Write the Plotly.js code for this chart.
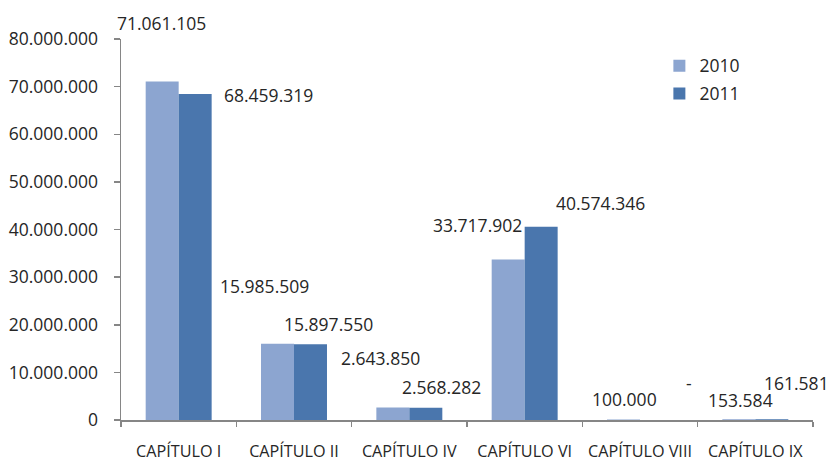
<!DOCTYPE html>
<html>
<head>
<meta charset="utf-8">
<script src="https://cdn.plot.ly/plotly-3.0.1.min.js"></script>
<style>html,body{margin:0;padding:0;background:#fff;}#chart{width:836px;height:461px;}</style>
</head>
<body>
<div id="chart"></div>
<script>
// ---- data ----
var categories = ["CAPÍTULO I", "CAPÍTULO II", "CAPÍTULO IV", "CAPÍTULO VI", "CAPÍTULO VIII", "CAPÍTULO IX"];
var seriesNames = ["2010", "2011"];
var values2010 = [71061105, 15985509, 2643850, 33717902, 100000, 153584];
var values2011 = [68459319, 15897550, 2568282, 40574346, 0, 161581];
var yTicks = [0, 10000000, 20000000, 30000000, 40000000, 50000000, 60000000, 70000000, 80000000];

// ---- label offsets (px), relative to category center / bar top ----
var labelDx2010 = [-16.7, -30, -29.3, -46.7, -15.5, -15.3];
var labelDy2010 = [59, 58, 49.4, 34, 20.5, 19.3];
var labelDx2011 = [89.8, 34, 31.7, 76.3, 49, 40.7];
var labelDy2011 = [-1.3, 20, 20.8, 23.6, 37, 36];

var colors = ["#8CA5D0", "#4A76AD"];
var textColor = "#262626";
var fontFam = "'Open Sans', 'Noto Sans', sans-serif";

function fmt(v) {
  if (v === 0) return "-";
  return String(v).replace(/\B(?=(\d{3})+(?!\d))/g, ".");
}

var traces = [
  {type: "bar", name: seriesNames[0], x: categories, y: values2010, marker: {color: colors[0]}, legendgroup: "a", hoverinfo: "none"},
  {type: "bar", name: seriesNames[1], x: categories, y: values2011, marker: {color: colors[1]}, legendgroup: "b", hoverinfo: "none"}
];

var annotations = [];
function addLabels(vals, dx, dy) {
  for (var i = 0; i < categories.length; i++) {
    annotations.push({
      x: categories[i], y: vals[i], xref: "x", yref: "y",
      text: fmt(vals[i]), showarrow: false,
      xanchor: "center", yanchor: "middle",
      xshift: dx[i], yshift: dy[i],
      font: {family: fontFam, size: 17.5, color: textColor}
    });
  }
}
addLabels(values2010, labelDx2010, labelDy2010);
addLabels(values2011, labelDx2011, labelDy2011);

var layout = {
  width: 836, height: 461,
  margin: {l: 121, r: 23, t: 39, b: 41, pad: 0},
  paper_bgcolor: "#fff", plot_bgcolor: "#fff",
  separators: ",.",
  barmode: "group", bargap: 0.428, bargroupgap: 0,
  showlegend: true,
  legend: {
    x: 0.778, y: 0.977, xanchor: "left", yanchor: "top",
    traceorder: "grouped", tracegroupgap: 2,
    font: {family: fontFam, size: 17.5, color: textColor},
    bgcolor: "rgba(0,0,0,0)"
  },
  xaxis: {
    type: "category", range: [-0.5, categories.length - 0.5], autorange: false,
    showline: true, linecolor: "#868686", linewidth: 1.5,
    ticks: "outside", tickson: "boundaries", ticklen: 5, tickcolor: "#868686", tickwidth: 1.5,
    tickangle: 0,
    tickfont: {family: fontFam, size: 16.2, color: textColor},
    ticklabelstandoff: 16,
    showgrid: false, zeroline: false, fixedrange: true
  },
  yaxis: {
    range: [0, 80000000], autorange: false, tickvals: yTicks, tickformat: ",d",
    showline: true, linecolor: "#868686", linewidth: 1.5,
    ticks: "outside", ticklen: 6, tickcolor: "#868686", tickwidth: 1.5,
    tickfont: {family: fontFam, size: 17.5, color: textColor},
    ticklabelstandoff: 12,
    showgrid: false, zeroline: false, fixedrange: true
  },
  annotations: annotations
};

Plotly.newPlot("chart", traces, layout, {displayModeBar: false, staticPlot: true});
</script>
</body>
</html>
